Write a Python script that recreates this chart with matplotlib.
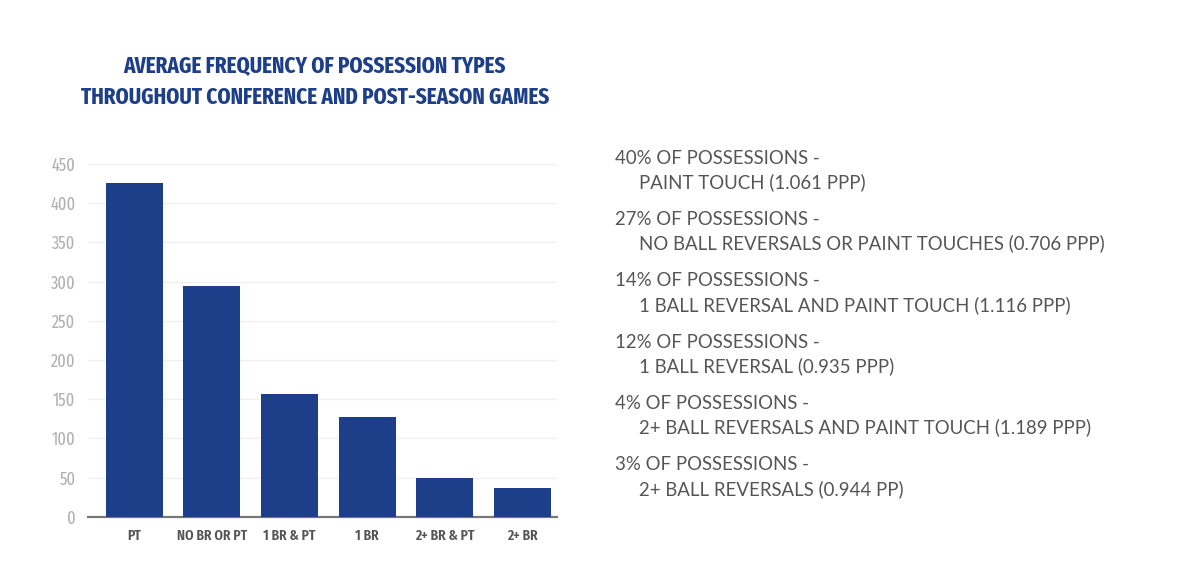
import os
import numpy as np
import matplotlib.pyplot as plt
from matplotlib import font_manager as fm

categories = ['PT', 'NO BR OR PT', '1 BR & PT', '1 BR', '2+ BR & PT', '2+ BR']
counts = [426, 294, 157, 127, 49, 37]

notes_head = ['40% OF POSSESSIONS -', '27% OF POSSESSIONS -', '14% OF POSSESSIONS -',
              '12% OF POSSESSIONS -', '4% OF POSSESSIONS -', '3% OF POSSESSIONS -']
notes_body = ['PAINT TOUCH (1.061 PPP)',
              'NO BALL REVERSALS OR PAINT TOUCHES (0.706 PPP)',
              '1 BALL REVERSAL AND PAINT TOUCH (1.116 PPP)',
              '1 BALL REVERSAL (0.935 PPP)',
              '2+ BALL REVERSALS AND PAINT TOUCH (1.189 PPP)',
              '2+ BALL REVERSALS (0.944 PP)']

blue = '#1d3e88'


def wnum(w):
    if isinstance(w, str):
        return fm.weight_dict.get(w, 400)
    return int(w)


# the reference uses a narrow display font: take any condensed face on the system
def narrow_font(want):
    cands = []
    for f in fm.fontManager.ttflist:
        base = os.path.basename(f.fname).lower()
        narrow = ('cond' in base or 'narrow' in base or 'condensed' in str(f.stretch))
        if narrow and f.style == 'normal' and not f.fname.lower().endswith('.otf'):
            extra = 0 if ('extra' in base or 'extra' in str(f.stretch)) else 50
            cands.append((abs(wnum(f.weight) - want) + extra, f.fname))
    if cands:
        cands.sort()
        return fm.FontProperties(fname=cands[0][1])
    return fm.FontProperties(family='DejaVu Sans', weight='bold')


title_fp = narrow_font(700)
tick_fp = narrow_font(600)
ytick_fp = narrow_font(400)

fig = plt.figure(figsize=(11.79, 5.75), dpi=100)
ax = fig.add_axes([0.0746, 0.1014, 0.3978, 0.6134])

x = np.arange(len(categories))
ax.bar(x, counts, width=0.735, color=blue, zorder=3)

ax.set_xlim(-0.6, 5.45)
ax.set_ylim(0, 450)
ax.set_yticks(range(0, 451, 50))
ax.yaxis.grid(True, color='#f0f0f0', linewidth=1, zorder=0)
for s in ['top', 'right', 'left']:
    ax.spines[s].set_visible(False)
ax.spines['bottom'].set_color('#777777')
ax.spines['bottom'].set_linewidth(1.6)
ax.tick_params(length=0)
ax.tick_params(axis='y', pad=9)
ax.tick_params(axis='x', pad=9)

ax.set_xticks(x)
ax.set_xticklabels(categories, color='#555555')
for lab in ax.get_xticklabels():
    lab.set_fontproperties(tick_fp)
    lab.set_fontsize(12)
for lab in ax.get_yticklabels():
    lab.set_fontproperties(ytick_fp)
    lab.set_fontsize(12)
    lab.set_color('#b0b0b0')

title = fig.text(0.267, 0.858,
                 'AVERAGE FREQUENCY OF POSSESSION TYPES\nTHROUGHOUT CONFERENCE AND POST-SEASON GAMES',
                 ha='center', va='center', fontproperties=title_fp, color=blue, linespacing=1.45)
title.set_fontsize(18)

for i, (h, b) in enumerate(zip(notes_head, notes_body)):
    y0 = 158 + i * 61.4
    fig.text(615 / 1179, 1 - y0 / 575, h, ha='left', va='center',
             family=['Lato', 'DejaVu Sans'], fontsize=13.4, color='#555555')
    fig.text(639 / 1179, 1 - (y0 + 24) / 575, b, ha='left', va='center',
             family=['Lato', 'DejaVu Sans'], fontsize=13.4, color='#555555')

# scale the narrow texts so their widths match the picture
r = fig.canvas.get_renderer()
w = title.get_window_extent(r).width
title.set_fontsize(18 * 470 / w)
w = ax.get_xticklabels()[1].get_window_extent(r).width
for lab in ax.get_xticklabels():
    lab.set_fontsize(12 * 70 / w)
w = ax.get_yticklabels()[-1].get_window_extent(r).width
for lab in ax.get_yticklabels():
    lab.set_fontsize(12 * 24 / w)

fig.savefig('out.png', dpi=100, facecolor='white')
